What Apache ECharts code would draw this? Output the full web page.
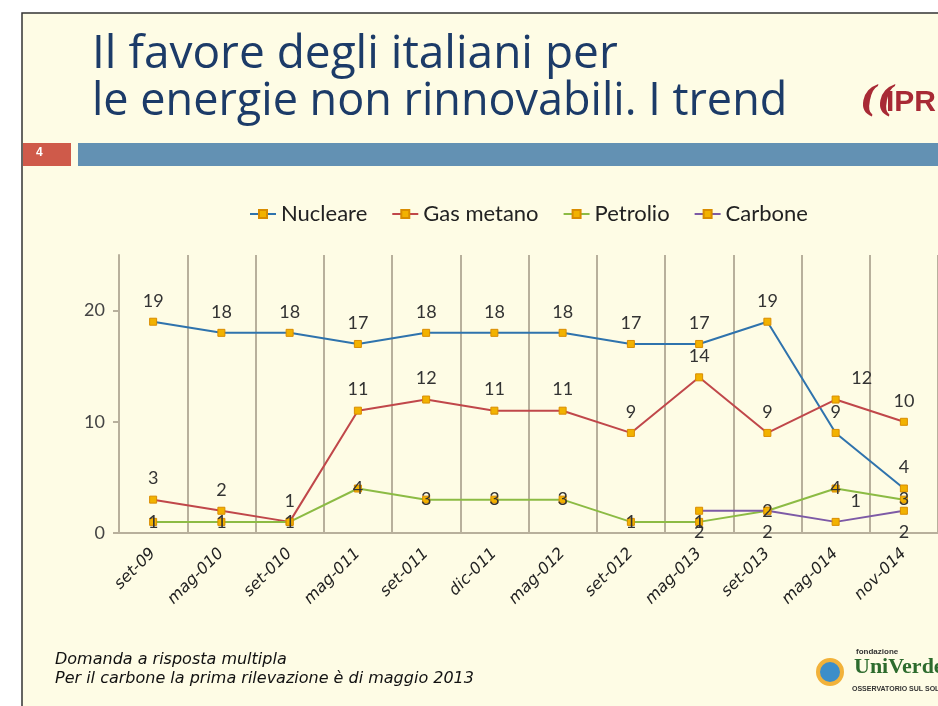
<!DOCTYPE html>
<html><head><meta charset="utf-8">
<script src="https://cdn.jsdelivr.net/npm/echarts@6/dist/echarts.min.js"></script>
<style>html,body{margin:0;padding:0;background:#fff}#c{width:938px;height:706px}</style>
</head><body><div id="c"></div>
<script>
const categories = ['set-09','mag-010','set-010','mag-011','set-011','dic-011','mag-012','set-012','mag-013','set-013','mag-014','nov-014'];
const nucleare = [19,18,18,17,18,18,18,17,17,19,9,4];
const gasMetano = [3,2,1,11,12,11,11,9,14,9,12,10];
const petrolio = [1,1,1,4,3,3,3,1,1,2,4,3];
const carbone = [null,null,null,null,null,null,null,null,2,2,1,2];
const yTicks = [0,10,20];

const chart = echarts.init(document.getElementById('c'));
const FONT = 'Lato, "Noto Sans", sans-serif';
const lbl = {show:true, fontSize:18, color:'#333', fontFamily:FONT};
const marker = {color:'#f2b200', borderColor:'#d98c00', borderWidth:1};
function mk(name, data, color, pos, special){
  return {
    name, type:'line', data: data.map((v,i)=>{
      if (v===null) return null;
      if (special && special[i]) return {value:v, label:special[i]};
      return v;
    }),
    symbol:'rect', symbolSize:7, showSymbol:true,
    lineStyle:{color, width:2}, itemStyle:Object.assign({}, marker),
    label:Object.assign({position:pos, distance:8}, lbl),
    emphasis:{disabled:true}, z:3
  };
}
chart.setOption({
  backgroundColor:'#ffffff',
  animation:false,
  graphic:[
    {type:'rect', shape:{x:22,y:13,width:930,height:710}, style:{fill:'#fefce5', stroke:'#333', lineWidth:1.5}, z:-10},
    {type:'text', left:92, top:32, style:{text:'Il favore degli italiani per', font:'46px "Open Sans", sans-serif', fill:'#1c3b68'}},
    {type:'text', left:92, top:80, style:{text:'le energie non rinnovabili. I trend', font:'45px "Open Sans", sans-serif', fill:'#1c3b68'}},
    {type:'rect', shape:{x:23,y:143,width:48,height:23}, style:{fill:'#cf5a4a'}},
    {type:'text', x:36, y:147, style:{text:'4', font:'bold 12px "Liberation Sans", sans-serif', fill:'#fff'}},
    {type:'rect', shape:{x:78,y:143,width:870,height:23}, style:{fill:'#6391b3'}},
    {type:'text', x:860, y:84, style:{text:'((', font:'bold italic 36px "DejaVu Serif", serif', fill:'#a82a35'}},
    {type:'text', x:886, y:88, style:{text:'IPR', font:'bold 30px "Liberation Sans", sans-serif', fill:'#a82a35'}},
    {type:'circle', shape:{cx:830,cy:672,r:12}, style:{fill:'#3d8ec9', stroke:'#f2b23a', lineWidth:4}},
    {type:'text', x:856, y:648, style:{text:'fondazione', font:'bold 8px "Liberation Sans", sans-serif', fill:'#333'}},
    {type:'text', x:854, y:656, style:{text:'UniVerde', font:'bold 22px "Liberation Serif", serif', fill:'#2d6b2d'}},
    {type:'text', x:852, y:686, style:{text:'OSSERVATORIO SUL SOLARE', font:'bold 7px "Liberation Sans", sans-serif', fill:'#333'}},
    {type:'text', x:55, y:652, style:{text:'Domanda a risposta multipla', font:'italic 16px "DejaVu Sans", sans-serif', fill:'#111'}},
    {type:'text', x:55, y:671, style:{text:'Per il carbone la prima rilevazione è di maggio 2013', font:'italic 16px "DejaVu Sans", sans-serif', fill:'#111'}}
  ],
  legend:{
    left:244, top:198, itemGap:24, itemWidth:26, itemHeight:10,
    textStyle:{fontSize:22, color:'#222', fontFamily:FONT},
    data:['Nucleare','Gas metano','Petrolio','Carbone']
  },
  grid:{left:119, top:255, width:823, bottom:173, containLabel:false},
  xAxis:{
    type:'category', data:categories, boundaryGap:true,
    axisLine:{lineStyle:{color:'#b8b09c', width:2}},
    axisTick:{show:false},
    splitLine:{show:true, lineStyle:{color:'#b8b09c', width:2}},
    axisLabel:{rotate:45, interval:0, fontSize:16, fontStyle:'italic', color:'#222', fontFamily:'"DejaVu Sans", sans-serif', margin:18}
  },
  yAxis:{
    type:'value', min:0, max:25, interval:10,
    axisLine:{show:true, lineStyle:{color:'#b8b09c', width:2}},
    axisTick:{show:true, length:6, lineStyle:{color:'#b8b09c', width:2}},
    splitLine:{show:false},
    axisLabel:{fontSize:18, color:'#444', fontFamily:FONT, margin:14, showMaxLabel:false,
      formatter:v=>yTicks.includes(v)?String(v):''}
  },
  series:[
    mk('Nucleare', nucleare, '#2f73ad', 'top'),
    mk('Gas metano', gasMetano, '#c0474a', 'top', {10:{position:'top', offset:[26,0]}}),
    mk('Petrolio', petrolio, '#8cbb44', 'inside'),
    mk('Carbone', carbone, '#7d5aa6', 'bottom', {10:{position:'top', offset:[20,0]}})
  ]
});
</script></body></html>
